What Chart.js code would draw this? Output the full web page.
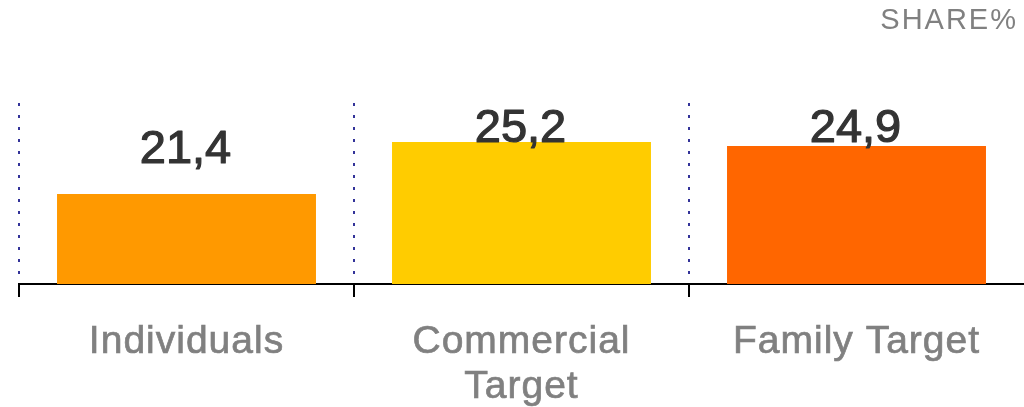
<!DOCTYPE html>
<html><head><meta charset="utf-8">
<script src="https://cdn.jsdelivr.net/npm/chart.js@4/dist/chart.umd.min.js"></script>
<style>html,body{margin:0;padding:0;background:#fff;} canvas{display:block;}</style>
</head><body>
<canvas id="c" width="1024" height="407"></canvas>
<script>
const categories = [['Individuals'], ['Commercial', 'Target'], ['Family Target']];
const shareValues = [21.4, 25.2, 24.9];
const unitLabel = 'SHARE%';
const axisMin = 14.82;
const axisMax = 28.05;

const fmt = v => v.toFixed(1).replace('.', ',');
const FONT = '"Liberation Sans", Arial, sans-serif';

const valueLabelPlugin = {
  id: 'valueLabels',
  beforeDraw(chart) {
    chart.ctx.letterSpacing = '1px';
  },
  afterDatasetsDraw(chart) {
    const {ctx, chartArea} = chart;
    const meta = chart.getDatasetMeta(0);
    ctx.save();
    ctx.letterSpacing = '0px';
    ctx.font = '47px ' + FONT;
    ctx.fillStyle = '#333333';
    ctx.strokeStyle = '#333333';
    ctx.lineWidth = 1.2;
    ctx.lineJoin = 'round';
    ctx.textAlign = 'center';
    ctx.textBaseline = 'alphabetic';
    meta.data.forEach((bar, i) => {
      const y = Math.max(bar.y - 31, chartArea.top + 39);
      const t = fmt(shareValues[i]);
      ctx.strokeText(t, bar.x - 1, y);
      ctx.fillText(t, bar.x - 1, y);
    });
    ctx.restore();
  },
  afterDraw(chart) {
    const {ctx} = chart;
    ctx.save();
    ctx.letterSpacing = '2px';
    ctx.font = '29px ' + FONT;
    ctx.fillStyle = '#808080';
    ctx.textAlign = 'right';
    ctx.textBaseline = 'alphabetic';
    ctx.fillText(unitLabel, 1018, 29);
    ctx.restore();
    ctx.letterSpacing = '0px';
  }
};

new Chart(document.getElementById('c'), {
  type: 'bar',
  data: {
    labels: categories,
    datasets: [{
      data: shareValues,
      backgroundColor: ['#FF9900', '#FFCC00', '#FF6600'],
      borderWidth: 0,
      barPercentage: 0.773,
      categoryPercentage: 1
    }]
  },
  options: {
    responsive: false,
    animation: false,
    layout: { padding: { left: 19, right: 0, top: 103, bottom: 0 } },
    plugins: { legend: { display: false }, tooltip: { enabled: false } },
    scales: {
      x: {
        offset: true,
        grid: {
          offset: true,
          drawOnChartArea: true,
          color: c => c.type === 'tick' ? '#333399' : 'rgba(0,0,0,0)',
          lineWidth: 2,
          tickColor: c => c.type === 'tick' ? '#000000' : 'rgba(0,0,0,0)',
          tickLength: 13,
          tickWidth: 2,
          tickBorderDash: []
        },
        border: { display: true, color: '#000000', width: 2, dash: [3, 9] },
        ticks: {
          color: '#808080',
          textStrokeColor: '#808080',
          textStrokeWidth: 0.7,
          font: { family: FONT, size: 39, lineHeight: 1.15 },
          padding: 23,
          maxRotation: 0,
          autoSkip: false
        },
        afterFit(scale) { scale.height = 123; }
      },
      y: {
        display: false,
        min: axisMin,
        max: axisMax
      }
    }
  },
  plugins: [valueLabelPlugin]
});
</script>
</body></html>
